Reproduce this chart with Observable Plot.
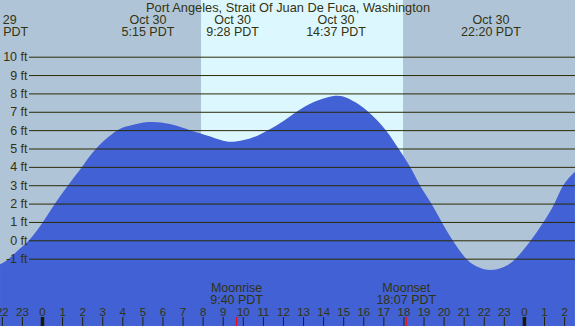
<!DOCTYPE html>
<html>
<head>
<meta charset="utf-8">
<script src="https://cdn.jsdelivr.net/npm/d3@7"></script>
<script src="https://cdn.jsdelivr.net/npm/@observablehq/plot@0.6"></script>
<style>
  html, body { margin: 0; padding: 0; background: #b0c4d8; }
</style>
</head>
<body>
<div id="chart"></div>
<script>
// ---- data (hours from midnight Oct 30, PDT) ----
const title = "Port Angeles, Strait Of Juan De Fuca, Washington";
const tideHours = [-2.09,-1.65,-1.15,-0.65,0.05,0.65,1.3,2.0,2.7,3.7,4.4,5.3,6.37,7.37,7.87,8.86,9.53,10.36,11.02,11.85,12.68,13.51,14.51,15.17,15.75,16.34,17.12,17.75,18.33,18.82,19.41,19.91,20.45,21.15,21.8,22.33,22.9,23.56,24.35,24.97,25.5,25.96,26.54];
const tideFeet  = [-1.30,-1.0,-0.5,0.0,1.0,2.0,3.0,4.0,5.0,5.95,6.25,6.44,6.33,6.0,5.83,5.48,5.37,5.55,5.86,6.37,7.0,7.52,7.86,7.77,7.42,6.9,6.0,5.0,4.0,3.0,1.96,0.98,0.0,-1.03,-1.5,-1.62,-1.5,-1.03,0.0,0.98,1.96,3.0,3.74];
const extremeHours = [-2.2, 5.25, 9.467, 14.617, 22.333];
const extremeDates = ["Oct 29", "Oct 30", "Oct 30", "Oct 30", "Oct 30"];
const extremeTimes = ["21:46", "5:15", "9:28", "14:37", "22:20"];
const sunriseHour = 7.92, sunsetHour = 17.98;
const moonHours = [9.667, 18.117];
const moonNames = ["Moonrise", "Moonset"];
const moonTimes = ["9:40", "18:07"];
const ftTicks = [-1,0,1,2,3,4,5,6,7,8,9,10];
const hourTicks = d3.range(-2, 27);
const hourLabels = hourTicks.map(h => String(((h % 24) + 24) % 24));

// ---- layout ----
const W = 575, H = 326;
const X_DOMAIN = [-42/20.08, (W-42)/20.08];
const Y_DOMAIN = [-(H-240.3)/18.36, 240.3/18.36];
const gridStartHour = X_DOMAIN[0] + 29/20.08;

const tide = tideHours.map((h,i) => ({h, ft: tideFeet[i]}));
const extremes = extremeHours.map((h,i) => ({h, label: `${extremeDates[i]}\n${extremeTimes[i]} PDT`}));
const moon = moonHours.map((h,i) => ({h, label: `${moonNames[i]}\n${moonTimes[i]} PDT`}));
const hours = hourTicks.map((h,i) => ({h, label: hourLabels[i], midnight: h % 24 === 0}));

const textColor = "#33330f";
const font = "'Liberation Sans', Arial, sans-serif";

const chart = Plot.plot({
  width: W, height: H,
  margin: 0,
  x: {domain: X_DOMAIN, axis: null},
  y: {domain: Y_DOMAIN, axis: null},
  style: {background: "#b0c4d8", fontFamily: font, fontSize: "12.5px", color: textColor},
  marks: [
    Plot.rect([{a: sunriseHour, b: sunsetHour}], {x1: "a", x2: "b", fill: "#ddf7ff"}),
    Plot.areaY(tide, {x: "h", y1: Y_DOMAIN[0], y2: "ft", fill: "#4161d5", curve: "natural"}),
    Plot.ruleY(ftTicks, {y: d => d, x1: gridStartHour, x2: X_DOMAIN[1], stroke: "#2a2a05", strokeWidth: 1}),
    Plot.text(ftTicks, {y: d => d, frameAnchor: "left", dx: 27, textAnchor: "end", text: d => `${d} ft`, fill: textColor, fontSize: 12.5}),
    Plot.text([title], {frameAnchor: "top", dy: 11, lineAnchor: "bottom", text: d => d, fill: textColor, fontSize: 12.8}),
    Plot.text(extremes, {x: "h", frameAnchor: "top", dy: 35.7, lineAnchor: "bottom", text: "label", fill: textColor, fontSize: 12.5, lineHeight: 0.94}),
    Plot.text(moon, {x: "h", frameAnchor: "bottom", dy: -22.7, lineAnchor: "bottom", text: "label", fill: textColor, fontSize: 12.5, lineHeight: 0.93}),
    Plot.text(hours, {x: "h", frameAnchor: "bottom", dy: -11, lineAnchor: "bottom", text: "label", fill: textColor, fontSize: 11.5}),
    Plot.tickX(hours.filter(d => !d.midnight), {x: "h", insetTop: 317, stroke: "#22220a", strokeWidth: 1}),
    Plot.tickX(hours.filter(d => d.midnight), {x: "h", insetTop: 317, stroke: "#1a1a00", strokeWidth: 3.5}),
    Plot.tickX(moonHours, {x: d => d, insetTop: 317, stroke: "#ff0000", strokeWidth: 1})
  ]
});
document.getElementById("chart").appendChild(chart);
</script>
</body>
</html>
